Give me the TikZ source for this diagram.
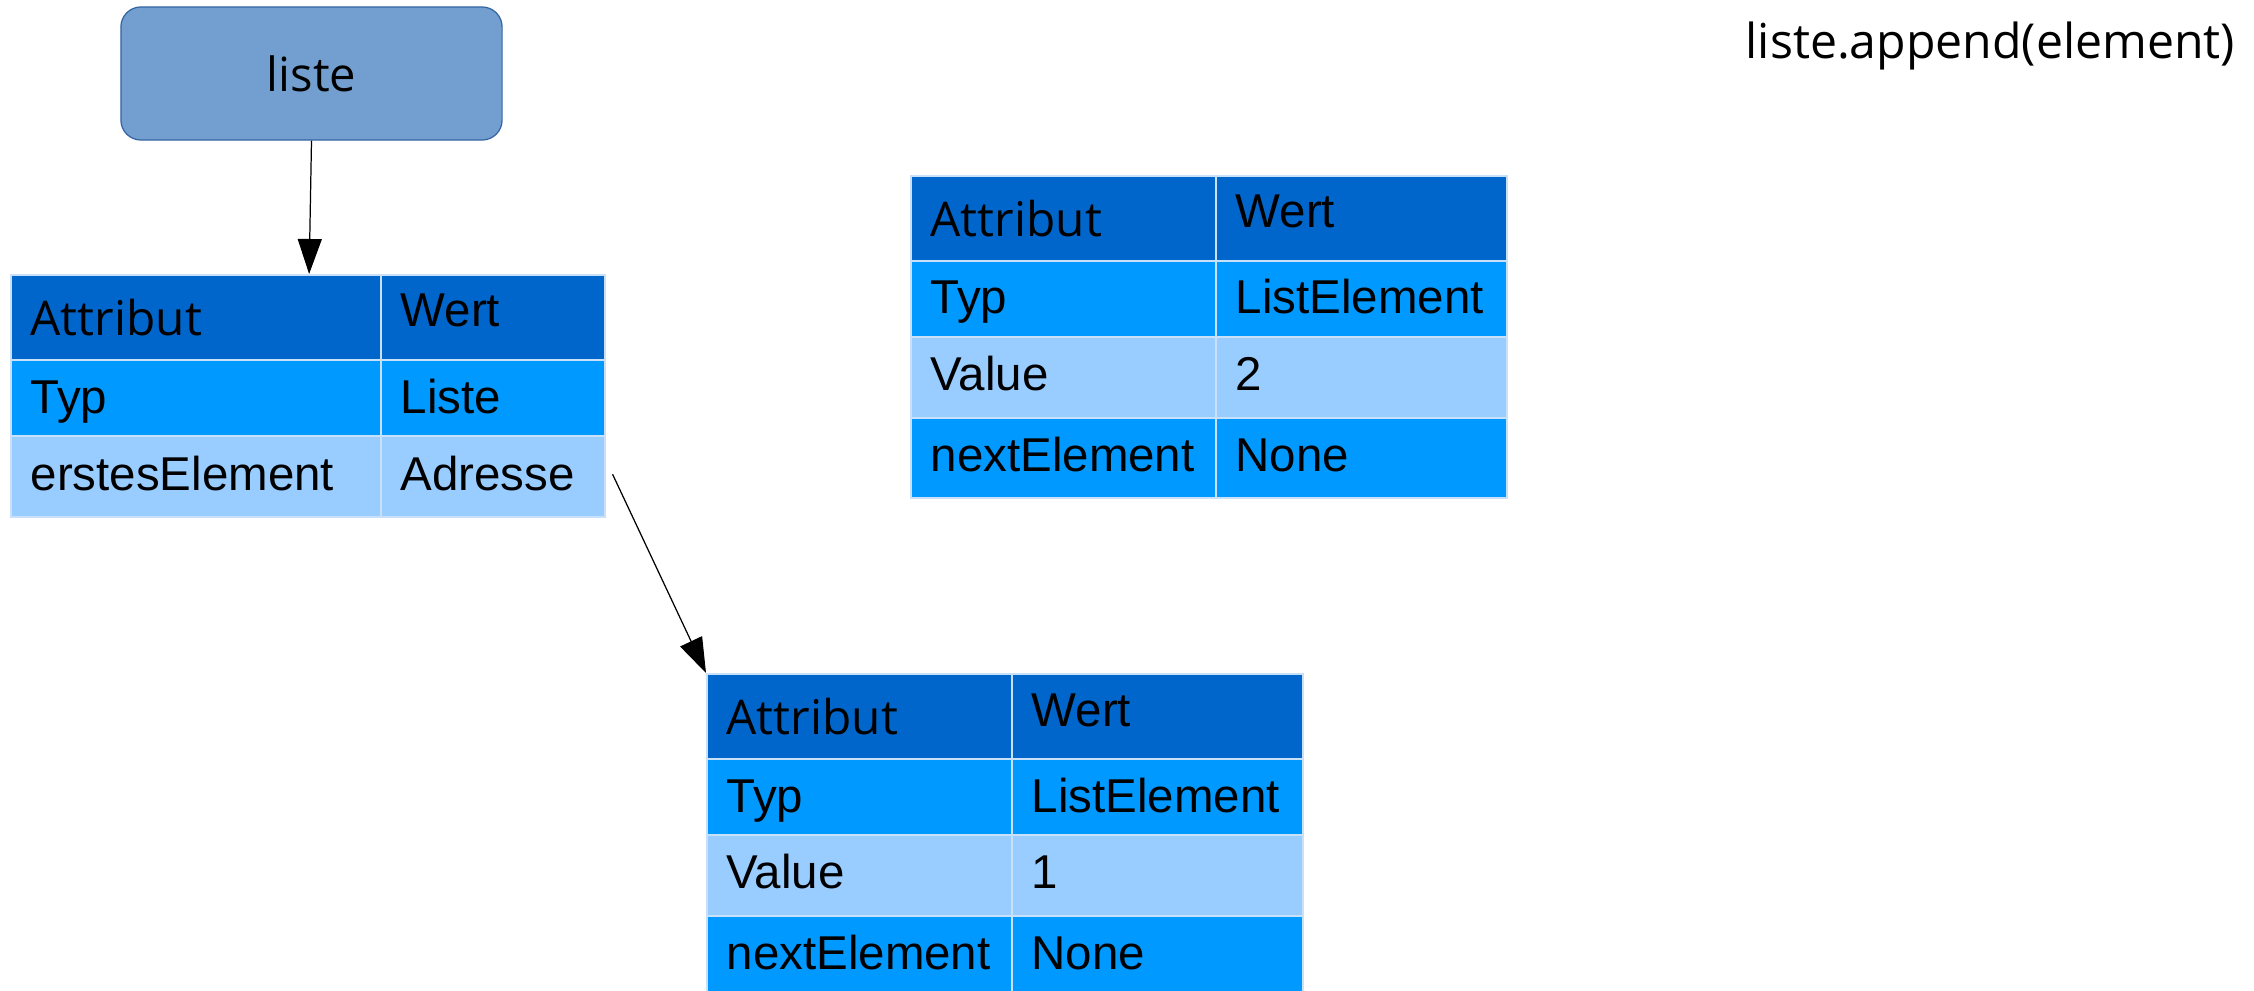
\documentclass[tikz,border=0pt]{standalone}
\usepackage{fontspec}
\setmainfont{Liberation Sans}
\newfontfamily\osans{Open Sans}
\usetikzlibrary{arrows.meta,calc}

\definecolor{hdrblue}{HTML}{0066CC}
\definecolor{midblue}{HTML}{0099FF}
\definecolor{liteblue}{HTML}{99CCFF}
\definecolor{boxfill}{HTML}{729FCF}
\definecolor{boxline}{HTML}{3465A4}
\definecolor{gridline}{HTML}{C8E0F8}

% one table cell: name, x, y (top left), width, height, fill, text, baseline below top
\newcommand{\tcell}[8]{%
  \node[cellbox, fill=#6, minimum width={#4*0.01cm}, minimum height={#5*0.01cm}] (#1) at (#2,#3) {};
  \node[celltext] (#1-t) at (#2+20,#3+#8) {#7};
}
% header label set in the rounded face
\newcommand{\hlabel}{{\osans\fontsize{13.6pt}{16pt}\selectfont Attribut}}

\begin{document}
\begin{tikzpicture}[x=0.01cm, y=-0.01cm,
  cellbox/.style={rectangle, anchor=north west, inner sep=0pt, draw=gridline, line width=0.45pt},
  celltext/.style={anchor=base west, inner sep=0pt, font=\fontsize{13.5pt}{15pt}\selectfont},
  objbox/.style={rectangle, rounded corners=0.2cm, fill=boxfill, draw=boxline, line width=0.35pt,
    minimum width=3.81cm, minimum height=1.33cm, inner sep=0pt,
    font=\osans\fontsize{13.4pt}{16pt}\selectfont},
  ptr/.style={draw=black, line width=0.35pt, -{Triangle[length=0.35cm, width=0.24cm]}}]

\useasboundingbox (0,0) rectangle (2254,991);

% variable
\node[objbox] (liste) at (311.5,73.5) {liste};

% call shown top right
\node[anchor=base west, inner sep=0pt, font=\osans\fontsize{13.7pt}{16pt}\selectfont] (call) at (1745,59) {liste.append(element)};

% list object
\tcell{la}{10}{274}{370}{85}{hdrblue}{\hlabel}{61}
\tcell{lb}{380}{274}{224}{85}{hdrblue}{Wert}{53}
\tcell{lc}{10}{359}{370}{76}{midblue}{Typ}{54}
\tcell{ld}{380}{359}{224}{76}{midblue}{Liste}{54}
\tcell{le}{10}{435}{370}{81}{liteblue}{erstesElement}{55}
\tcell{lf}{380}{435}{224}{81}{liteblue}{Adresse}{55}

% first element
\tcell{ea}{706}{673}{305}{85}{hdrblue}{\hlabel}{61}
\tcell{eb}{1011}{673}{291}{85}{hdrblue}{Wert}{53}
\tcell{ec}{706}{758}{305}{76}{midblue}{Typ}{54}
\tcell{ed}{1011}{758}{291}{76}{midblue}{ListElement}{54}
\tcell{ee}{706}{834}{305}{81}{liteblue}{Value}{54}
\tcell{ef}{1011}{834}{291}{81}{liteblue}{1}{54}
\tcell{eg}{706}{915}{305}{80}{midblue}{nextElement}{54}
\tcell{eh}{1011}{915}{291}{80}{midblue}{None}{54}

% new element
\tcell{na}{910}{175}{305}{85}{hdrblue}{\hlabel}{61}
\tcell{nb}{1215}{175}{291}{85}{hdrblue}{Wert}{53}
\tcell{nc}{910}{260}{305}{76}{midblue}{Typ}{54}
\tcell{nd}{1215}{260}{291}{76}{midblue}{ListElement}{54}
\tcell{ne}{910}{336}{305}{81}{liteblue}{Value}{54}
\tcell{nf}{1215}{336}{291}{81}{liteblue}{2}{54}
\tcell{ng}{910}{417}{305}{80}{midblue}{nextElement}{54}
\tcell{nh}{1215}{417}{291}{80}{midblue}{None}{54}

% references
\draw[ptr] (liste.south) -- ($(la.north west)!0.805!(la.north east)$);
\draw[ptr] ([xshift=0.07cm,yshift=0.02cm]lf.east) -- (ea.north west);

\end{tikzpicture}
\end{document}
